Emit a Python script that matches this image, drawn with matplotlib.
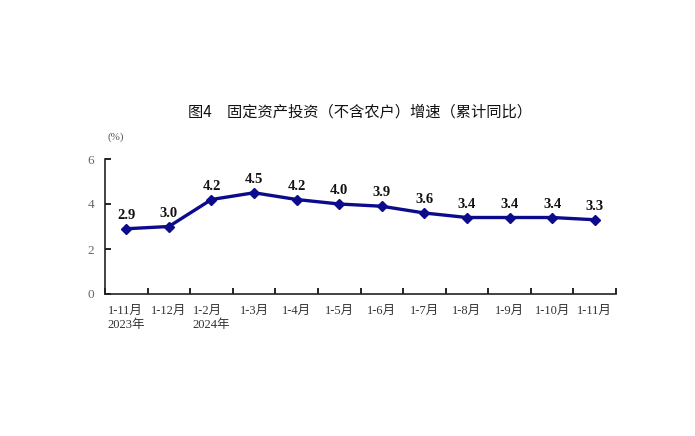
import matplotlib
matplotlib.use("Agg")
import matplotlib.pyplot as plt
import numpy as np

CATS = ["1-11月\n2023年", "1-12月", "1-2月\n2024年", "1-3月", "1-4月", "1-5月",
        "1-6月", "1-7月", "1-8月", "1-9月", "1-10月", "1-11月"]
VALS = [2.9, 3.0, 4.2, 4.5, 4.2, 4.0, 3.9, 3.6, 3.4, 3.4, 3.4, 3.3]
YTICKS = [0, 2, 4, 6]
TITLE = "图4　固定资产投资（不含农户）增速（累计同比）"

SERIF = ["Liberation Serif", "Noto Sans CJK SC"]
SANS = ["Noto Sans CJK SC", "DejaVu Sans"]
LINE = "#0b0b8c"

fig = plt.figure(figsize=(6.95, 4.36), dpi=100)
ax = fig.add_axes([105 / 695, 1 - 294 / 436, (616 - 105) / 695, (294 - 159) / 436])

x = np.arange(len(VALS))
ax.plot(x, VALS, color=LINE, lw=2.4, marker="D", ms=5.5, mec=LINE, mfc=LINE, zorder=3)
for xi, v in zip(x, VALS):
    ax.text(xi, v + 0.3, f"{v:.1f}", ha="center", va="bottom", fontsize=10.5,
            fontweight="bold", family=SERIF, color="#111111")

ax.set_xlim(-0.5, len(VALS) - 0.5)
ax.set_ylim(0, 6)
ax.set_yticks(YTICKS)
ax.set_yticklabels([str(t) for t in YTICKS], family=SERIF, fontsize=9.5, color="#666666")
ax.tick_params(axis="y", direction="in", length=4, width=1.2, pad=8)

# boundaries get the tick marks, centres get the labels
ax.set_xticks(np.arange(len(VALS) + 1) - 0.5)
ax.set_xticklabels([])
ax.set_xticks(x, minor=True)
ax.set_xticklabels(CATS, minor=True, family=SERIF, fontsize=9, color="#333333",
                   va="top", multialignment="left")
ax.tick_params(axis="x", which="major", direction="in", length=4, width=1.2)
ax.tick_params(axis="x", which="minor", length=0, pad=8)

for s in ("top", "right"):
    ax.spines[s].set_visible(False)
for s in ("left", "bottom"):
    ax.spines[s].set_linewidth(1.2)
    ax.spines[s].set_color("#222222")

fig.text(108 / 695, 1 - 137 / 436, "(%)", ha="left", va="center", fontsize=8,
         family=SERIF, color="#555555")
fig.text(360 / 695, 1 - 112 / 436, TITLE, ha="center", va="center", fontsize=11,
         family=SANS, color="#111111")

fig.savefig("out.png", dpi=100, facecolor="white")
